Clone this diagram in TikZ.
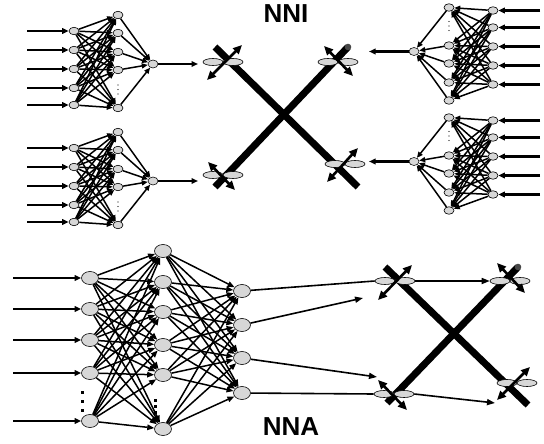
\documentclass[tikz,border=0pt]{standalone}
\usepackage{fontspec}
\setmainfont{Liberation Sans}
\usetikzlibrary{arrows.meta,shapes.geometric}

\definecolor{cellgray}{RGB}{215,215,215}
\definecolor{capgray}{RGB}{70,70,70}

\tikzset{
  neuron/.style={draw, ellipse, fill=cellgray, line width=0.6pt, inner sep=0pt,
                 minimum width=10pt, minimum height=7.5pt},
  bigneuron/.style={neuron, minimum width=17pt, minimum height=13pt},
  petal/.style={draw, ellipse, fill=cellgray, line width=0.6pt, inner sep=0pt,
                minimum width=20pt, minimum height=7pt},
  link/.style={line width=1.5pt, -{Triangle[length=6pt,width=5pt]}},
  biglink/.style={line width=1.5pt, -{Triangle[length=7pt,width=5.5pt]}},
  feed/.style={line width=2.3pt, -{Triangle[length=6.5pt,width=5.5pt]}},
  wire/.style={line width=1.6pt},
  wirearrow/.style={line width=1.6pt, -{Triangle[length=8pt,width=6pt]}},
  bar/.style={line width=7pt},
  spin/.style={line width=2.6pt,
    {Triangle[length=9pt,width=8pt]}-{Triangle[length=9pt,width=8pt]}},
  label/.style={font=\bfseries\fontsize{26}{26}\selectfont, inner sep=0pt},
}

% small network: 5 inputs, 5 hidden cells (with a gap), one output
\newcommand{\smallnet}[2]{%
\begin{scope}[#2]
  \foreach \yy [count=\p] in {31,50,69,88,105} {
    \node[neuron] (#1i\p) at (74,\yy) {};
    \coordinate (#1s\p) at (27,\yy);
    \draw[feed] (#1s\p) -- (#1i\p);
  }
  \foreach \yy [count=\q] in {15,33,52,70,108}
    \node[neuron] (#1h\q) at (118,\yy) {};
  \node[neuron, minimum height=8pt] (#1o) at (153,64) {};
  \coordinate (#1e) at (198,64);
  \foreach \p in {1,...,5}
    \foreach \q in {1,...,5}
      \draw[link] (#1i\p) -- (#1h\q);
  \foreach \q in {1,...,5}
    \draw[link] (#1h\q) -- (#1o);
  \draw[feed] (#1o) -- (#1e);
  \foreach \yy in {85,89.5,94}
    \fill (118,\yy) circle (0.55pt);
\end{scope}}

% two petals around a pivot with a double arrow through it
\newcommand{\propeller}[4]{%
\begin{scope}[shift={(#2)}]
  \node[petal] (#1l) at (-10,0) {};
  \node[petal] (#1r) at (10,0) {};
  \coordinate (#1a) at (#3);
  \coordinate (#1b) at (#4);
  \draw[spin] (#1a) -- (#1b);
\end{scope}}

\begin{document}
\begin{tikzpicture}[x=1pt,y=-1pt]
\useasboundingbox (0,0) rectangle (544,444);

% ---------------- NNI ----------------
\smallnet{a}{}
\smallnet{b}{shift={(0,117)}}
\smallnet{c}{shift={(567,115.5)},xscale=-1,yscale=-1}
\smallnet{d}{shift={(567,225.5)},xscale=-1,yscale=-1}

\coordinate (x1s) at (215,47);
\coordinate (x1e) at (358,187);
\coordinate (x2s) at (348,47);
\coordinate (x2e) at (215,187);
\draw[bar] (x1s) -- (x1e);
\draw[bar] (x2s) -- (x2e);
\fill[capgray] (x2s) circle (3.3pt);

\propeller{ptl}{223,62}{-16,18}{19,-17}
\propeller{ptr}{338,62}{-14,-16}{15,14}
\propeller{pbl}{223,175}{-15,-13}{12,15}
\propeller{pbr}{345,164}{13,-16}{-18,18}

\node[label] (nni) at (286,14) {NNI};

% ---------------- NNA ----------------
\foreach \yy [count=\p] in {278,309,340,373,421} {
  \node[bigneuron] (ni\p) at (90,\yy) {};
  \coordinate (ns\p) at (13,\yy);
  \draw[feed] (ns\p) -- (ni\p);
}
\foreach \yy [count=\q] in {251,282,312,345,375,429}
  \node[bigneuron] (nh\q) at (163,\yy) {};
\foreach \yy [count=\r] in {291,325,358,393}
  \node[bigneuron] (no\r) at (242,\yy) {};

\foreach \p in {1,...,5}
  \foreach \q in {1,...,6}
    \draw[biglink] (ni\p) -- (nh\q);
\foreach \q in {1,...,6}
  \foreach \r in {1,...,4}
    \draw[biglink] (nh\q) -- (no\r);

\foreach \yy in {392,401,410}
  \fill (80.5,\yy-1.5) rectangle ++(3,3);
\foreach \yy in {400,406,412}
  \fill (153.5,\yy-1.5) rectangle ++(3,3);

\coordinate (y1s) at (385,267);
\coordinate (y1e) at (528,405);
\coordinate (y2s) at (518,267);
\coordinate (y2e) at (387,403);
\draw[bar] (y1s) -- (y1e);
\draw[bar] (y2s) -- (y2e);
\fill[capgray] (y2s) circle (3.3pt);

\propeller{qtl}{395,281}{-17,19}{17,-16}
\propeller{qtr}{510,281}{-13,-18}{15,12}
\propeller{qbl}{394,394}{-16,-14}{13,16}
\propeller{qbr}{517,383}{13,-16}{-20,17}

\coordinate (t2) at (363,298);
\coordinate (t3) at (377,377);
\coordinate (t4) at (495,403);
\draw[wire] (no1) -- (qtll.west);
\draw[wirearrow] (qtlr.east) -- (qtrl.west);
\draw[wirearrow] (no2) -- (t2);
\draw[wirearrow] (no3) -- (t3);
\draw[wire] (no4) -- (qbll.west);
\draw[wirearrow] (qblr.east) -- (t4);

\node[label] (nna) at (291,427) {NNA};
\end{tikzpicture}
\end{document}
